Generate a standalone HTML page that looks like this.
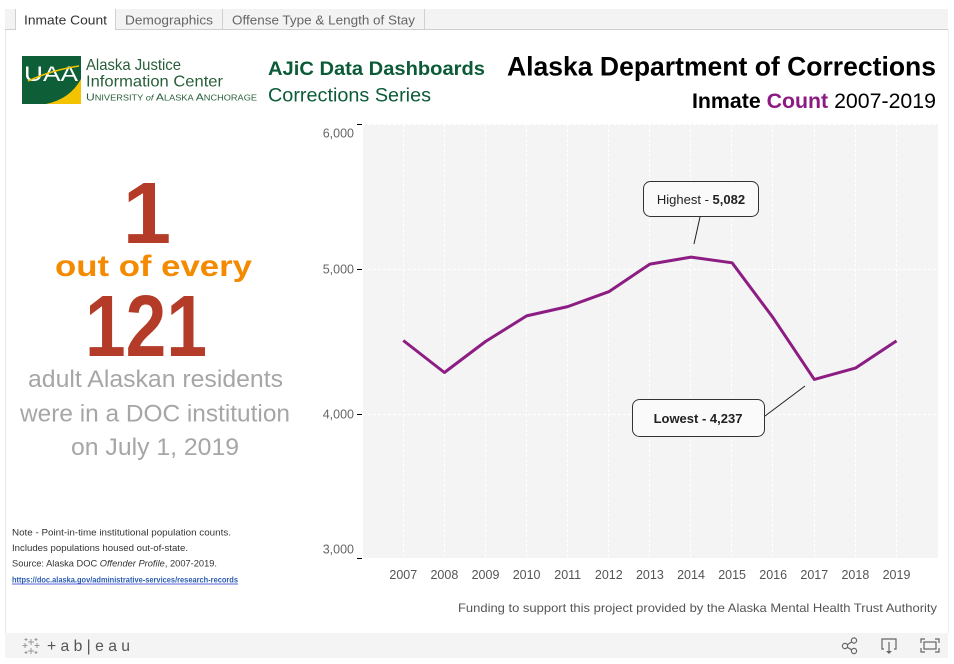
<!DOCTYPE html>
<html><head><meta charset="utf-8"><style>
html,body{margin:0;padding:0;background:#fff;width:954px;height:664px;overflow:hidden}
svg{display:block}
text{font-family:"Liberation Sans",sans-serif}
</style></head><body>
<svg width="954" height="664" viewBox="0 0 954 664" xmlns="http://www.w3.org/2000/svg">
<rect width="954" height="664" fill="#fff"/>
<!-- frame -->
<line x1="5.5" y1="29" x2="5.5" y2="633" stroke="#e6e6e6"/>
<line x1="948.5" y1="29" x2="948.5" y2="633" stroke="#eeeeee"/>
<!-- tab bar -->
<rect x="5" y="9" width="943" height="20" fill="#f3f3f3"/>
<line x1="5" y1="29.5" x2="948" y2="29.5" stroke="#cfcfcf"/>
<rect x="15" y="9" width="100" height="21" fill="#fff"/>
<line x1="15.5" y1="9" x2="15.5" y2="30" stroke="#d0d0d0"/>
<line x1="115.5" y1="9" x2="115.5" y2="30" stroke="#d0d0d0"/>
<line x1="222.5" y1="9" x2="222.5" y2="29" stroke="#d0d0d0"/>
<line x1="424.5" y1="9" x2="424.5" y2="29" stroke="#d0d0d0"/>
<text x="24" y="24.5" font-size="13" fill="#333" textLength="83" lengthAdjust="spacingAndGlyphs">Inmate Count</text>
<text x="125" y="24.5" font-size="13" fill="#666" textLength="88" lengthAdjust="spacingAndGlyphs">Demographics</text>
<text x="232" y="24.5" font-size="13" fill="#666" textLength="183" lengthAdjust="spacingAndGlyphs">Offense Type &amp; Length of Stay</text>

<!-- logo -->
<rect x="22" y="56" width="59" height="48" fill="#0e5f38"/>
<path d="M46,104 Q70,99 81,79 L81,104 Z" fill="#f3c300"/>
<text x="24" y="81" font-size="21" fill="#fff" textLength="54" lengthAdjust="spacingAndGlyphs">UAA</text>
<path d="M28,81 Q52,70 79,66" stroke="#f3c300" stroke-width="1.5" fill="none"/>
<text x="86" y="70" font-size="16" fill="#275e38" textLength="95" lengthAdjust="spacingAndGlyphs">Alaska Justice</text>
<text x="86" y="86.5" font-size="16" fill="#275e38" textLength="137" lengthAdjust="spacingAndGlyphs">Information Center</text>
<text x="86" y="100.5" font-family="Liberation Serif" fill="#275e38" textLength="171" lengthAdjust="spacingAndGlyphs"><tspan font-size="10.5">U</tspan><tspan font-size="8">NIVERSITY </tspan><tspan font-size="8" font-style="italic">of </tspan><tspan font-size="10.5">A</tspan><tspan font-size="8">LASKA </tspan><tspan font-size="10.5">A</tspan><tspan font-size="8">NCHORAGE</tspan></text>

<!-- headers -->
<text x="268" y="75" font-size="19" font-weight="bold" fill="#0b5a38" textLength="217" lengthAdjust="spacingAndGlyphs">AJiC Data Dashboards</text>
<text x="268" y="101.5" font-size="19.5" fill="#0b5a38" textLength="163" lengthAdjust="spacingAndGlyphs">Corrections Series</text>
<text x="507" y="75.5" font-size="26.5" font-weight="bold" fill="#000" textLength="429" lengthAdjust="spacingAndGlyphs">Alaska Department of Corrections</text>
<text x="692" y="108" font-size="21" fill="#000" textLength="244" lengthAdjust="spacingAndGlyphs"><tspan font-weight="bold">Inmate </tspan><tspan font-weight="bold" fill="#8b1a83">Count </tspan><tspan>2007-2019</tspan></text>

<!-- left stat -->
<text x="147" y="243" font-size="87" font-weight="bold" fill="#b33b27" text-anchor="middle">1</text>
<text x="55" y="276" font-size="30" font-weight="bold" fill="#f38a00" textLength="197" lengthAdjust="spacingAndGlyphs">out of every</text>
<text x="85" y="356" font-size="87" font-weight="bold" fill="#b33b27" textLength="122" lengthAdjust="spacingAndGlyphs">121</text>
<text x="28" y="387" font-size="24" fill="#a6a6a6" textLength="255" lengthAdjust="spacingAndGlyphs">adult Alaskan residents</text>
<text x="20" y="421.5" font-size="24" fill="#a6a6a6" textLength="270" lengthAdjust="spacingAndGlyphs">were in a DOC institution</text>
<text x="71" y="455" font-size="24" fill="#a6a6a6" textLength="168" lengthAdjust="spacingAndGlyphs">on July 1, 2019</text>

<!-- notes -->
<text x="12" y="535.5" font-size="9.5" fill="#333" textLength="219" lengthAdjust="spacingAndGlyphs">Note - Point-in-time institutional population counts.</text>
<text x="12" y="551" font-size="9.5" fill="#333" textLength="176" lengthAdjust="spacingAndGlyphs">Includes populations housed out-of-state.</text>
<text x="12" y="566.5" font-size="9.5" fill="#333" textLength="205" lengthAdjust="spacingAndGlyphs">Source: Alaska DOC <tspan font-style="italic">Offender Profile</tspan>, 2007-2019.</text>
<text x="12" y="582.5" font-size="8.5" font-family="Liberation Serif" font-weight="bold" fill="#2a5db0" textLength="226" lengthAdjust="spacingAndGlyphs">https://doc.alaska.gov/administrative-services/research-records</text>
<line x1="12" y1="584" x2="238" y2="584" stroke="#2233cc" stroke-width="0.8"/>

<!-- chart -->
<rect x="363" y="124" width="575" height="434" fill="#f4f4f4"/>
<g stroke="#ffffff" stroke-width="1" stroke-dasharray="3 2">
<line x1="363" y1="124.5" x2="938" y2="124.5"/>
<line x1="363" y1="269.5" x2="938" y2="269.5"/>
<line x1="363" y1="414.5" x2="938" y2="414.5"/>
<line x1="403.5" y1="124" x2="403.5" y2="558"/>
<line x1="444.5" y1="124" x2="444.5" y2="558"/>
<line x1="485.5" y1="124" x2="485.5" y2="558"/>
<line x1="526.5" y1="124" x2="526.5" y2="558"/>
<line x1="567.5" y1="124" x2="567.5" y2="558"/>
<line x1="608.5" y1="124" x2="608.5" y2="558"/>
<line x1="649.5" y1="124" x2="649.5" y2="558"/>
<line x1="690.5" y1="124" x2="690.5" y2="558"/>
<line x1="731.5" y1="124" x2="731.5" y2="558"/>
<line x1="772.5" y1="124" x2="772.5" y2="558"/>
<line x1="814.5" y1="124" x2="814.5" y2="558"/>
<line x1="855.5" y1="124" x2="855.5" y2="558"/>
<line x1="896.5" y1="124" x2="896.5" y2="558"/>
</g>
<g stroke="#000" stroke-width="1">
<line x1="357" y1="124.5" x2="362" y2="124.5"/>
<line x1="357" y1="269.5" x2="362" y2="269.5"/>
<line x1="357" y1="414.5" x2="362" y2="414.5"/>
<line x1="357" y1="558.5" x2="362" y2="558.5"/>
</g>
<g font-size="12.5" fill="#666" text-anchor="end">
<text x="354" y="137.5">6,000</text>
<text x="354" y="273.5">5,000</text>
<text x="354" y="418.5">4,000</text>
<text x="354" y="553.5">3,000</text>
</g>
<g font-size="12.5" fill="#555" text-anchor="middle">
<text x="403.3" y="579">2007</text>
<text x="444.4" y="579">2008</text>
<text x="485.5" y="579">2009</text>
<text x="526.6" y="579">2010</text>
<text x="567.7" y="579">2011</text>
<text x="608.8" y="579">2012</text>
<text x="649.9" y="579">2013</text>
<text x="691" y="579">2014</text>
<text x="732.1" y="579">2015</text>
<text x="773.2" y="579">2016</text>
<text x="814.3" y="579">2017</text>
<text x="855.4" y="579">2018</text>
<text x="896.5" y="579">2019</text>
</g>
<polyline fill="none" stroke="#8c1d82" stroke-width="3" stroke-linejoin="round" stroke-linecap="butt"
 points="403.3,340.5 444.4,372.5 485.5,341.5 526.6,315.9 567.7,306.6 608.8,291.7 649.9,264.1 691,257.1 732.1,262.8 773.2,317.9 814.3,379.4 855.4,368.1 896.5,340.9"/>

<!-- callouts -->
<line x1="700" y1="217" x2="694" y2="244" stroke="#222" stroke-width="1"/>
<rect x="643.5" y="181.5" width="115" height="35" rx="7" fill="#fafafa" stroke="#333"/>
<text x="701" y="204" font-size="13" fill="#222" text-anchor="middle">Highest - <tspan font-weight="bold">5,082</tspan></text>
<line x1="765" y1="416" x2="805" y2="386" stroke="#222" stroke-width="1"/>
<rect x="632.5" y="399.5" width="132" height="37" rx="7" fill="#fafafa" stroke="#333"/>
<text x="698" y="423" font-size="13" font-weight="bold" fill="#222" text-anchor="middle">Lowest - 4,237</text>

<text x="937" y="612" font-size="12" fill="#555" text-anchor="end" textLength="479" lengthAdjust="spacingAndGlyphs">Funding to support this project provided by the Alaska Mental Health Trust Authority</text>

<!-- toolbar -->
<rect x="5" y="633" width="943" height="25" fill="#f4f4f4"/>
<g stroke="#999" stroke-width="1">
<path d="M31,639v6M28,642h6M31,648v6M28,651h6M25,643v5M22.5,645.5h5M37,643v5M34.5,645.5h5M26,638v3M24.5,639.5h3M36,638v3M34.5,639.5h3M26,651v3M24.5,652.5h3M36,651v3M34.5,652.5h3"/>
</g>
<text x="47" y="651" font-size="16" fill="#555" textLength="83" lengthAdjust="spacingAndGlyphs">+ a b | e a u</text>
<g fill="none" stroke="#666" stroke-width="1.2">
<circle cx="845" cy="646" r="2.6"/>
<circle cx="854" cy="640.5" r="2.6"/>
<circle cx="854" cy="651" r="2.6"/>
<line x1="847.3" y1="644.7" x2="851.7" y2="641.8"/>
<line x1="847.3" y1="647.3" x2="851.7" y2="649.8"/>
<path d="M884,649h-2v-10h14v10h-2"/>
<line x1="889" y1="642" x2="889" y2="652"/>
<path d="M921,643v-4h4M935,639h4v4M939,648v4h-4M925,652h-4v-4"/>
<rect x="924" y="642" width="12" height="7"/>
</g>
<path d="M886,651l3,3l3,-3z" fill="#666"/>
</svg>
</body></html>
